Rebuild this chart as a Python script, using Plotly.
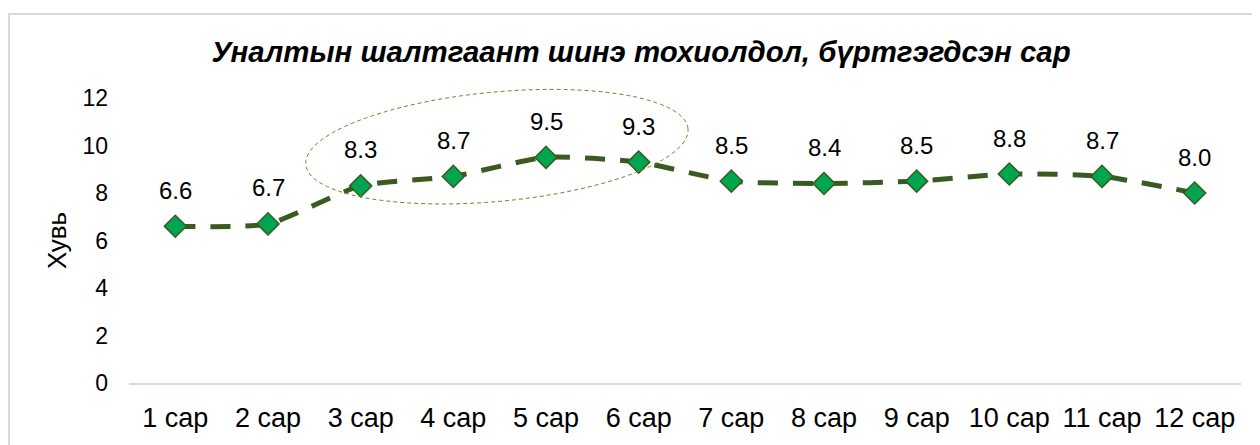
import numpy as np
import plotly.graph_objects as go

months = ["1 сар", "2 сар", "3 сар", "4 сар", "5 сар", "6 сар",
          "7 сар", "8 сар", "9 сар", "10 сар", "11 сар", "12 сар"]
values = [6.6, 6.7, 8.3, 8.7, 9.5, 9.3, 8.5, 8.4, 8.5, 8.8, 8.7, 8.0]
y_ticks = [0, 2, 4, 6, 8, 10, 12]
title_text = "Уналтын шалтгаант шинэ тохиолдол, бүртгэгдсэн сар"
y_title = "Хувь"

OFF = 8  # page body margin
W, H = 1252, 437
ML = 129 - OFF
MT = 98 - OFF
MR = W - (1241 - OFF)
MB = H - (390 - OFF)
FONT = "Liberation Sans, Arial, sans-serif"
X_RANGE = [-0.5, 11.5]
Y_RANGE = [0, 12]

x_idx = list(range(len(months)))

fig = go.Figure()
fig.add_trace(go.Scatter(
    x=x_idx, y=values, mode="lines+markers",
    line=dict(color="#3b5a1f", width=5, dash="20px,15px", shape="spline", smoothing=0.6),
    marker=dict(symbol="diamond", size=17, color="#00a550",
                line=dict(color="#3b5a1f", width=1.5)),
    hoverinfo="skip", showlegend=False,
))

for i, v in zip(x_idx, values):
    fig.add_annotation(x=i, y=v, text=f"{v:.1f}", showarrow=False,
                       yshift=36, font=dict(family=FONT, size=24, color="#000"))

# ellipse highlight (3-6 сар), rotated; built in data units, drawn in paper
# coordinates so the part above the plot area is not clipped
pw = (W - ML - MR) / (X_RANGE[1] - X_RANGE[0])   # px per category
ph = (H - MT - MB) / (Y_RANGE[1] - Y_RANGE[0])   # px per unit
a, b, th = 192.0, 56.0, np.deg2rad(5.5)
cxd, cyd = 3.47, 9.95
t = np.linspace(0, 2 * np.pi, 160)
ex = a * np.cos(t) * np.cos(th) - b * np.sin(t) * np.sin(th)
ey = a * np.cos(t) * np.sin(th) + b * np.sin(t) * np.cos(th)
xs = (cxd + ex / pw - X_RANGE[0]) / (X_RANGE[1] - X_RANGE[0])
ys = (cyd + ey / ph - Y_RANGE[0]) / (Y_RANGE[1] - Y_RANGE[0])
path = "M " + " L ".join(f"{x:.5f},{y:.5f}" for x, y in zip(xs, ys)) + " Z"
fig.add_shape(type="path", path=path, xref="paper", yref="paper",
              line=dict(color="#5b8f2e", width=1, dash="4px,3px"))

# outer chart border
def px_to_paper_x(p):
    return (p - OFF - ML) / (W - ML - MR)

def px_to_paper_y(p):
    return (H - MB - (p - OFF)) / (H - MT - MB)

fig.add_shape(type="rect", xref="paper", yref="paper",
              x0=px_to_paper_x(9), x1=px_to_paper_x(1290),
              y0=px_to_paper_y(480), y1=px_to_paper_y(12),
              line=dict(color="#d9d9d9", width=2), layer="below")

fig.update_layout(
    width=W, height=H,
    margin=dict(l=ML, r=MR, t=MT, b=MB),
    paper_bgcolor="white", plot_bgcolor="white",
    font=dict(family=FONT, color="#000"),
    title=dict(text=f"<b><i>{title_text}</i></b>", x=(641 - OFF) / W, xanchor="center",
               y=1 - (52 - OFF) / H, yanchor="middle",
               font=dict(family=FONT, size=29.4, color="#000")),
    xaxis=dict(range=X_RANGE, tickvals=x_idx, ticktext=months,
               showgrid=False, zeroline=False, showline=True,
               linecolor="#d9d9d9", linewidth=2,
               ticks="", tickfont=dict(family=FONT, size=27),
               ticklabelstandoff=10, fixedrange=True),
    yaxis=dict(range=Y_RANGE, tickvals=y_ticks, showgrid=False,
               zeroline=False, showline=False, ticks="",
               tickfont=dict(family=FONT, size=23),
               ticklabelstandoff=20,
               title=dict(text=y_title, font=dict(family=FONT, size=26), standoff=8),
               fixedrange=True),
)

fig.write_html("out.html")
